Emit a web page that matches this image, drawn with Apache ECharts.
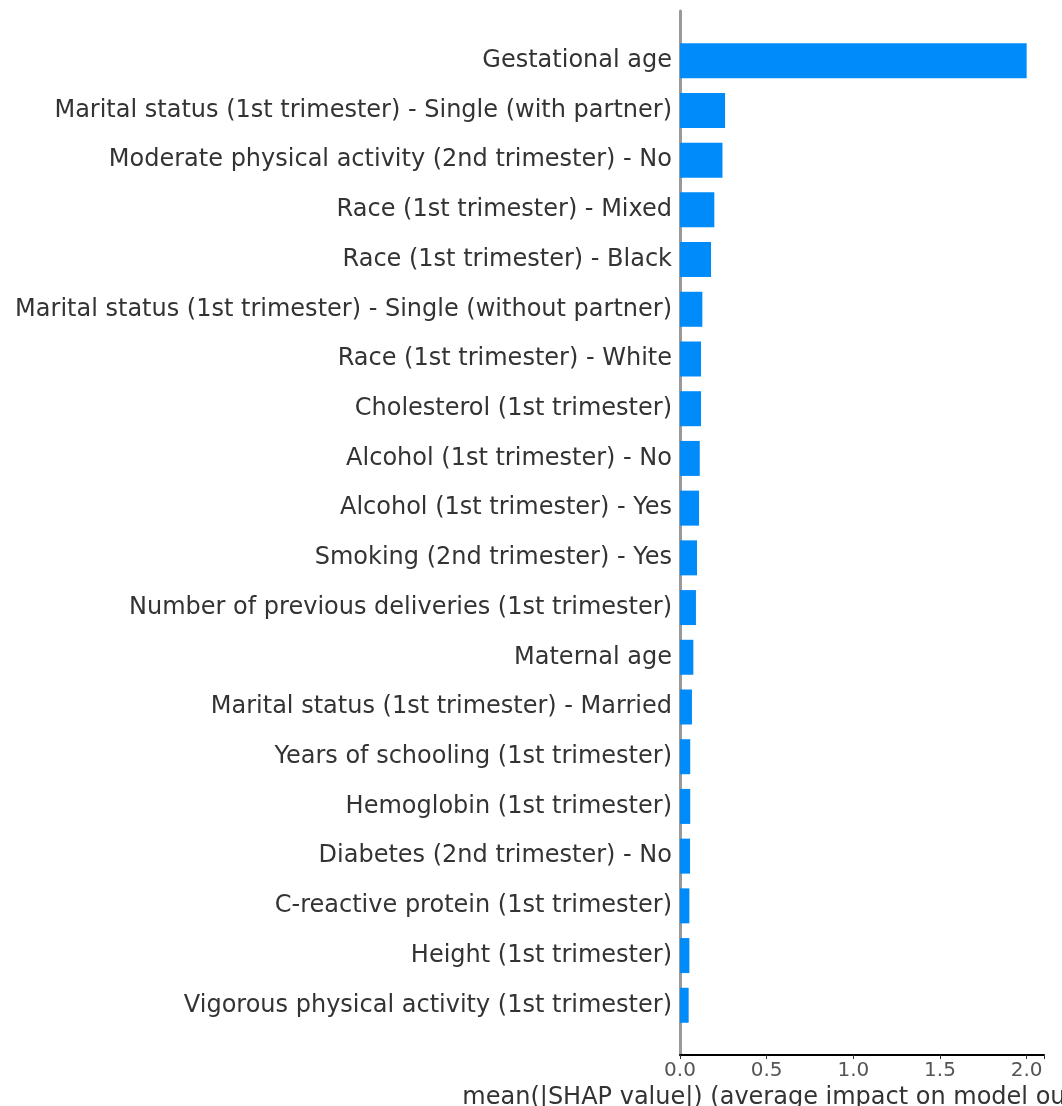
<!DOCTYPE html>
<html>
<head>
<meta charset="utf-8">
<script src="https://cdn.jsdelivr.net/npm/echarts@6/dist/echarts.min.js"></script>
<style>
html,body{margin:0;padding:0;background:#fff;}
#chart{width:1062px;height:1106px;}
</style>
</head>
<body>
<div id="chart"></div>
<script>
const categories = [
  "Gestational age",
  "Marital status (1st trimester) - Single (with partner)",
  "Moderate physical activity (2nd trimester) - No",
  "Race (1st trimester) - Mixed",
  "Race (1st trimester) - Black",
  "Marital status (1st trimester) - Single (without partner)",
  "Race (1st trimester) - White",
  "Cholesterol (1st trimester)",
  "Alcohol (1st trimester) - No",
  "Alcohol (1st trimester) - Yes",
  "Smoking (2nd trimester) - Yes",
  "Number of previous deliveries (1st trimester)",
  "Maternal age",
  "Marital status (1st trimester) - Married",
  "Years of schooling (1st trimester)",
  "Hemoglobin (1st trimester)",
  "Diabetes (2nd trimester) - No",
  "C-reactive protein (1st trimester)",
  "Height (1st trimester)",
  "Vigorous physical activity (1st trimester)"
];
const values = [2.0, 0.26, 0.245, 0.198, 0.179, 0.129, 0.121, 0.121, 0.114, 0.110,
  0.098, 0.092, 0.077, 0.069, 0.059, 0.059, 0.058, 0.054, 0.054, 0.050];
const xTicks = [0, 0.5, 1.0, 1.5, 2.0];
const xLabel = "mean(|SHAP value|) (average impact on model output magnitude)";

const axisCats = [""].concat(categories, [""]);
const seriesData = [null].concat(values, [null]);

const chart = echarts.init(document.getElementById('chart'), null, {renderer: 'canvas'});
chart.setOption({
  animation: false,
  backgroundColor: '#ffffff',
  textStyle: {fontFamily: 'DejaVu Sans'},
  grid: {left: 680, right: 18, top: 11, bottom: 51, containLabel: false, outerBoundsMode: 'none'},
  xAxis: {
    type: 'value',
    min: 0, max: 2.1,
    interval: 0.5,
    name: xLabel,
    nameLocation: 'middle',
    nameGap: 28,
    nameTextStyle: {fontSize: 24, color: '#333333', fontFamily: 'DejaVu Sans'},
    axisLine: {show: true, onZero: false, lineStyle: {color: '#000000', width: 2}},
    axisTick: {show: true, length: 4, lineStyle: {color: '#333333'}},
    axisLabel: {
      fontSize: 20, color: '#555555', margin: 6, fontFamily: 'DejaVu Sans',
      formatter: v => xTicks.indexOf(v) >= 0 ? v.toFixed(1) : ''
    },
    splitLine: {show: false}
  },
  yAxis: {
    type: 'category',
    data: axisCats,
    inverse: true,
    boundaryGap: false,
    axisLine: {show: true, lineStyle: {color: '#999999', width: 3}},
    axisTick: {show: false},
    axisLabel: {fontSize: 24, color: '#333333', margin: 8, fontFamily: 'DejaVu Sans', interval: 0},
    splitLine: {show: false}
  },
  series: [{
    type: 'bar',
    data: seriesData,
    barWidth: 35,
    itemStyle: {color: '#008bfb'}
  }]
});
</script>
</body>
</html>
